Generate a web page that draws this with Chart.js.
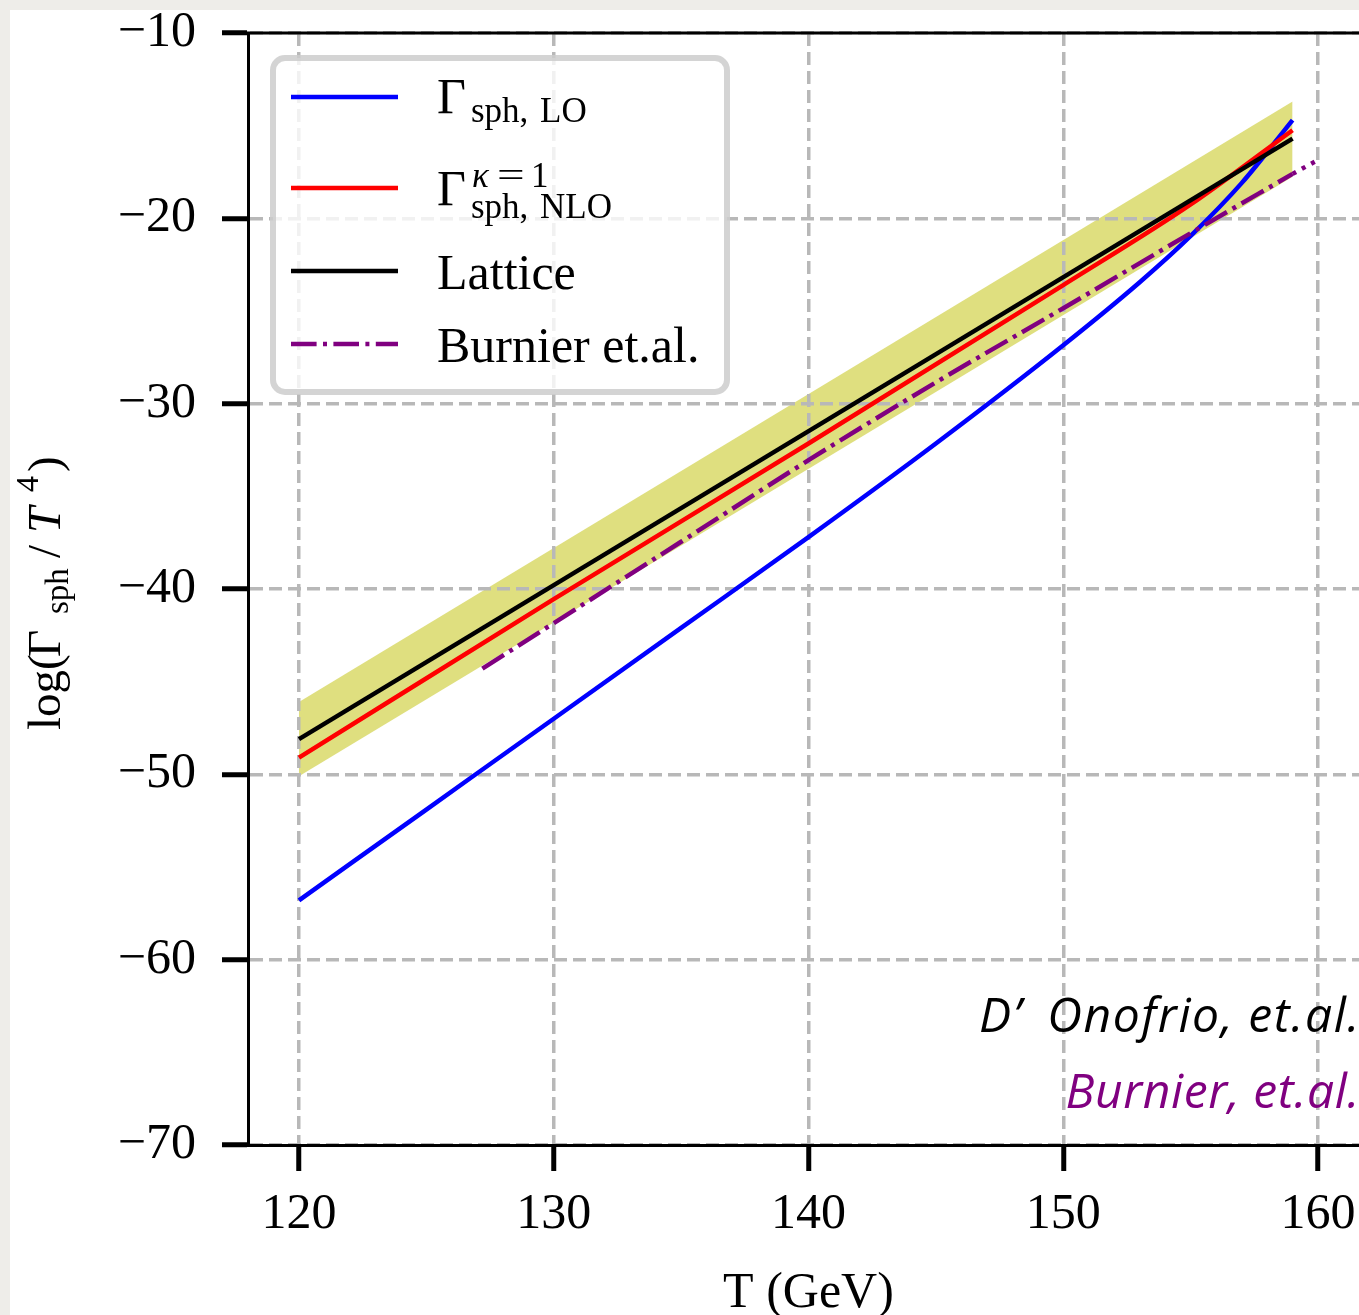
<!DOCTYPE html>
<html>
<head>
<meta charset="utf-8">
<script src="https://cdn.jsdelivr.net/npm/chart.js@4.4.1/dist/chart.umd.min.js"></script>
<style>
  html, body { margin: 0; padding: 0; width: 1359px; height: 1315px; overflow: hidden; background: #eeede9; }
  #sheet { position: absolute; left: 10px; top: 10px; right: 0; bottom: 0; background: #ffffff; }
  #wrap { position: absolute; left: 0; top: 0; width: 1400px; height: 1315px; }
</style>
</head>
<body>
<div id="sheet"></div>
<div id="wrap"><canvas id="c" width="1400" height="1315"></canvas></div>
<script>
// Axis ticks
const xTicks = [120, 130, 140, 150, 160];
const yTicks = [-70, -60, -50, -40, -30, -20, -10];
const yTickLabels = ['\u221270', '\u221260', '\u221250', '\u221240', '\u221230', '\u221220', '\u221210'];

// Leading-order sphaleron rate
const loT    = [120, 125, 130, 135, 140, 145, 150, 153, 155, 157, 159];
const loRate = [-56.8, -51.9, -47.0, -42.1, -37.2, -32.15, -26.85, -23.45, -20.95, -18.1, -14.7];

// Next-to-leading-order rate (kappa = 1)
const nloT    = [120, 130, 140, 150, 155, 159];
const nloRate = [-49.1, -40.55, -32.15, -23.6, -19.25, -15.25];

// Lattice fit and its uncertainty band
const latticeT    = [120, 159];
const latticeRate = [-48.1, -15.7];
const bandT     = [120, 159];
const bandUpper = [-46.1, -13.7];
const bandLower = [-50.1, -17.75];

// Burnier et al.
const burnierT    = [127.2, 135, 140, 145, 150, 155, 159];
const burnierRate = [-44.3, -37.45, -33.05, -28.85, -24.85, -20.8, -17.6];
const burnierExtT    = [159, 160];
const burnierExtRate = [-17.6, -16.85];

const pts = (xs, ys) => xs.map((x, i) => ({ x: x, y: ys[i] }));

const SERIF = '"Liberation Serif", "Times New Roman", serif';

function roundRect(ctx, x, y, w, h, r) {
  ctx.beginPath();
  ctx.moveTo(x + r, y);
  ctx.lineTo(x + w - r, y);
  ctx.arcTo(x + w, y, x + w, y + r, r);
  ctx.lineTo(x + w, y + h - r);
  ctx.arcTo(x + w, y + h, x + w - r, y + h, r);
  ctx.lineTo(x + r, y + h);
  ctx.arcTo(x, y + h, x, y + h - r, r);
  ctx.lineTo(x, y + r);
  ctx.arcTo(x, y, x + r, y, r);
  ctx.closePath();
}

// draws text stretched horizontally (used for the wide "=" of the math label)
function wideText(ctx, txt, x, y, sx) {
  ctx.save();
  ctx.translate(x, y);
  ctx.scale(sx, 1);
  ctx.fillText(txt, 0, 0);
  ctx.restore();
}

const decorations = {
  id: 'decorations',
  afterDraw(chart) {
    const ctx = chart.ctx;
    const a = chart.chartArea;
    ctx.save();

    // top spine
    ctx.strokeStyle = '#000';
    ctx.lineWidth = 3;
    ctx.beginPath();
    ctx.moveTo(a.left - 1.5, a.top);
    ctx.lineTo(a.right, a.top);
    ctx.stroke();

    // legend frame
    roundRect(ctx, 273, 58, 454, 334, 12);
    ctx.fillStyle = 'rgba(255,255,255,0.8)';
    ctx.fill();
    ctx.lineWidth = 6;
    ctx.strokeStyle = 'rgba(204,204,204,0.85)';
    ctx.stroke();

    const handle = (y, color, dash) => {
      ctx.beginPath();
      ctx.lineWidth = 4.5;
      ctx.lineCap = 'butt';
      ctx.strokeStyle = color;
      ctx.setLineDash(dash);
      ctx.moveTo(291, y);
      ctx.lineTo(398, y);
      ctx.stroke();
      ctx.setLineDash([]);
    };
    handle(97, '#0000ff', []);
    handle(188, '#ff0000', []);
    handle(271, '#000000', []);
    handle(344, '#800080', [25.6, 6.4, 4, 6.4]);

    ctx.fillStyle = '#000';
    ctx.textAlign = 'left';
    ctx.textBaseline = 'alphabetic';
    const big = '50px ' + SERIF;
    const small = '35px ' + SERIF;
    const smallIt = 'italic 35px ' + SERIF;
    // Γ_{sph, LO}
    ctx.font = big;   ctx.fillText('\u0393', 437, 113);
    ctx.font = small; ctx.fillText('sph,', 471, 122);
    ctx.fillText('LO', 540, 122);
    // Γ^{κ=1}_{sph, NLO}
    ctx.font = big;   ctx.fillText('\u0393', 437, 205);
    ctx.font = smallIt; ctx.fillText('\u03ba', 472, 187);
    ctx.font = small; wideText(ctx, '=', 497, 187, 1.4);
    ctx.fillText('1', 531, 187);
    ctx.fillText('sph,', 471, 218);
    ctx.fillText('NLO', 540, 218);
    ctx.font = big;
    ctx.fillText('Lattice', 437, 289);
    ctx.fillText('Burnier et.al.', 437, 362);

    // source annotations
    ctx.font = 'italic 48px "Open Sans", Lato, sans-serif';
    ctx.fillStyle = '#000';
    ctx.textAlign = 'left';
    ctx.letterSpacing = '2px';
    ctx.fillText('D\u2019', 979, 1032);
    ctx.letterSpacing = '1.6px';
    ctx.textAlign = 'right';
    ctx.fillText('Onofrio, et.al.', 1361, 1032);
    ctx.letterSpacing = '0.6px';
    ctx.fillStyle = '#800080';
    ctx.fillText('Burnier, et.al.', 1360, 1108);
    ctx.letterSpacing = '0px';

    // x-axis title
    ctx.fillStyle = '#000';
    ctx.textAlign = 'center';
    ctx.font = big;
    ctx.fillText('T (GeV)', (a.left + a.right) / 2, 1307);

    // y-axis title: log(Γ_sph / T^4), read bottom to top
    ctx.rotate(-Math.PI / 2);
    ctx.textAlign = 'left';
    const yBig = '47px ' + SERIF;
    ctx.font = yBig;                  ctx.fillText('log(', -730, 60);
    ctx.fillText('\u0393', -657, 60);
    ctx.font = '33px ' + SERIF;       ctx.fillText('sph', -614, 68);
    ctx.font = yBig;                  ctx.fillText('/', -558, 60);
    ctx.font = 'italic ' + yBig;      ctx.fillText('T', -533, 60);
    ctx.font = '32px ' + SERIF;       ctx.fillText('4', -492, 38);
    ctx.font = yBig;                  ctx.fillText(')', -472, 60);

    ctx.restore();
  }
};

const lineDefaults = { pointRadius: 0, borderWidth: 4.5, fill: false, borderCapStyle: 'butt' };

const gridOpts = { color: '#b8b8b8', lineWidth: 3.5, tickLength: 26, tickWidth: 5, tickColor: '#000' };
const borderOpts = { display: true, color: '#000', width: 3, dash: [13, 6] };

new Chart(document.getElementById('c'), {
  type: 'line',
  data: {
    datasets: [
      Object.assign({}, lineDefaults, { label: 'Burnier et.al.', data: pts(burnierT, burnierRate), borderColor: '#800080', borderDash: [25.6, 6.4, 4, 6.4], cubicInterpolationMode: 'monotone', order: 1 }),
      Object.assign({}, lineDefaults, { label: 'Burnier extension', data: pts(burnierExtT, burnierExtRate), borderColor: '#800080', borderDash: [4, 6.6], order: 1 }),
      Object.assign({}, lineDefaults, { label: 'Lattice', data: pts(latticeT, latticeRate), borderColor: '#000000', order: 2 }),
      Object.assign({}, lineDefaults, { label: 'NLO', data: pts(nloT, nloRate), borderColor: '#ff0000', cubicInterpolationMode: 'monotone', order: 3 }),
      Object.assign({}, lineDefaults, { label: 'LO', data: pts(loT, loRate), borderColor: '#0000ff', cubicInterpolationMode: 'monotone', order: 4 }),
      { label: 'band upper', data: pts(bandT, bandUpper), pointRadius: 0, borderWidth: 0, borderColor: 'rgba(0,0,0,0)', backgroundColor: 'rgba(191,191,0,0.5)', fill: '+1', order: 5 },
      { label: 'band lower', data: pts(bandT, bandLower), pointRadius: 0, borderWidth: 0, borderColor: 'rgba(0,0,0,0)', fill: false, order: 6 }
    ]
  },
  options: {
    responsive: false,
    animation: false,
    devicePixelRatio: 1,
    layout: { padding: { top: 33, right: 31, bottom: 0, left: 0 } },
    plugins: {
      legend: { display: false },
      tooltip: { enabled: false },
      filler: { drawTime: 'beforeDraw' }
    },
    events: [],
    scales: {
      x: {
        type: 'linear',
        min: 118,
        max: 162,
        afterBuildTicks: s => { s.ticks = xTicks.map(v => ({ value: v })); },
        afterFit: s => { s.height = 170; s.paddingLeft = 0; s.paddingRight = 0; },
        grid: gridOpts,
        border: borderOpts,
        ticks: { color: '#000', font: { family: SERIF, size: 50, lineHeight: 1 }, padding: 19, maxRotation: 0, autoSkip: false, callback: v => String(v) }
      },
      y: {
        type: 'linear',
        min: -70,
        max: -10,
        afterBuildTicks: s => { s.ticks = yTicks.map(v => ({ value: v })); },
        afterFit: s => { s.width = 248; s.paddingTop = 0; s.paddingBottom = 0; },
        grid: gridOpts,
        border: borderOpts,
        ticks: { color: '#000', font: { family: SERIF, size: 50, lineHeight: 1 }, padding: 26, autoSkip: false, callback: v => yTickLabels[yTicks.indexOf(v)] }
      }
    }
  },
  plugins: [decorations]
});
</script>
</body>
</html>
